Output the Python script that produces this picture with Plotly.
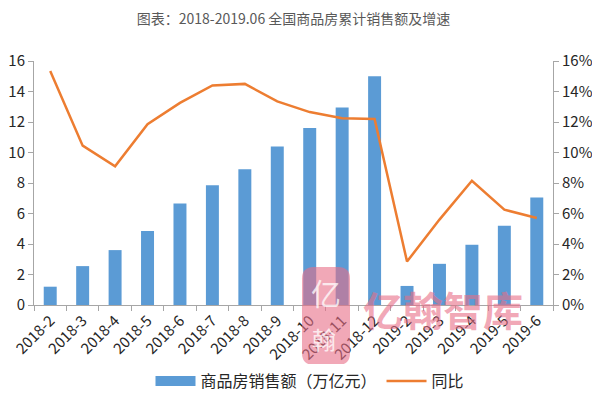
import plotly.graph_objects as go

categories = ["2018-2", "2018-3", "2018-4", "2018-5", "2018-6", "2018-7", "2018-8", "2018-9",
              "2018-10", "2018-11", "2018-12", "2019-2", "2019-3", "2019-4", "2019-5", "2019-6"]
sales = [1.2, 2.55, 3.6, 4.85, 6.65, 7.85, 8.9, 10.4, 11.6, 12.95, 15.0, 1.25, 2.7, 3.95, 5.2, 7.05]
yoy = [15.35, 10.45, 9.1, 11.85, 13.25, 14.4, 14.5, 13.35, 12.65, 12.25, 12.2, 2.85, 5.6, 8.15, 6.25, 5.7]
yoy_frac = [v / 100 for v in yoy]
bar_name = "商品房销售额（万亿元）"
line_name = "同比"
title = "图表：2018-2019.06 全国商品房累计销售额及增速"
watermark = "亿翰智库"

font = "Noto Sans CJK SC, Noto Sans, sans-serif"
BAR_C, LINE_C = "#5B9BD5", "#ED7D31"
WM_C = "rgba(232,110,135,0.6)"

# page body has an 8px default margin; compensate so the plot lands where the reference has it
OFF = 8
W, H = 600, 396
L, R, T, B = 34 - OFF, W - (553 - OFF), 61 - OFF, H - (305 - OFF)
PW, PH = W - L - R, H - T - B


def px_to_paper(x, y):
    return (x - OFF - L) / PW, (H - B - (y - OFF)) / PH


fig = go.Figure()
fig.add_trace(go.Bar(x=categories, y=sales, name=bar_name, marker_color=BAR_C,
                     marker_line_width=0, width=0.4, yaxis="y", showlegend=False))
# legend stand-in drawing the wide rectangle key used by the reference
fig.add_trace(go.Scatter(x=[None], y=[None], name=bar_name, mode="lines",
                         line=dict(color=BAR_C, width=10), yaxis="y"))
fig.add_trace(go.Scatter(x=categories, y=yoy_frac, name=line_name, mode="lines",
                         line=dict(color=LINE_C, width=2.5), yaxis="y2"))

# watermark logo (rounded shield) + text
x0, y0 = px_to_paper(302, 267)
x1, y1 = px_to_paper(350, 365)
rx, ry = (x1 - x0) * 0.25, (y0 - y1) * 0.12
path = (f"M {x0+rx},{y0} L {x1-rx},{y0} Q {x1},{y0} {x1},{y0-ry} "
        f"L {x1},{y1+ry} Q {x1},{y1} {x1-rx},{y1} L {x0+rx},{y1} Q {x0},{y1} {x0},{y1+ry} "
        f"L {x0},{y0-ry} Q {x0},{y0} {x0+rx},{y0} Z")
fig.add_shape(type="path", path=path, xref="paper", yref="paper",
              fillcolor=WM_C, line_width=0, layer="above")
for ch, cx, cy, sz in [("亿", 326, 292, 30), ("翰", 324, 338, 24)]:
    ax, ay = px_to_paper(cx, cy)
    fig.add_annotation(text=ch, x=ax, y=ay, xref="paper", yref="paper", showarrow=False,
                       font=dict(size=sz, color="rgba(255,255,255,0.75)", family=font),
                       xanchor="center", yanchor="middle")

wx, wy = px_to_paper(443, 309)
fig.add_annotation(text=f"<b>{watermark}</b>", x=wx, y=wy, xref="paper", yref="paper",
                   showarrow=False, font=dict(size=40, color=WM_C, family=font),
                   xanchor="center", yanchor="middle")

lx, ly = px_to_paper(310, 381)

fig.update_layout(
    width=W, height=H,
    margin=dict(l=L, r=R, t=T, b=B, autoexpand=False),
    paper_bgcolor="white", plot_bgcolor="white",
    title=dict(text=title, x=0.5, xanchor="center", xref="paper",
               y=1 - (19 - OFF) / H, yanchor="middle",
               font=dict(family=font, size=14, color="#595959")),
    font=dict(family=font, size=13, color="#262626"),
    xaxis=dict(type="category", tickangle=-45, showline=True, linecolor="#A6A6A6",
               ticks="outside", tickson="boundaries", ticklen=5, tickcolor="#A6A6A6",
               showgrid=False, automargin=False, tickfont=dict(size=15, color="#262626")),
    yaxis=dict(range=[0, 16], dtick=2, showline=True, linecolor="#A6A6A6", ticks="outside",
               ticklen=5, tickcolor="#A6A6A6", showgrid=False, zeroline=False, automargin=False,
               tickfont=dict(size=15, color="#262626")),
    yaxis2=dict(range=[0, 0.16], dtick=0.02, tickformat=".0%", overlaying="y", side="right",
                showline=True, linecolor="#A6A6A6", ticks="outside", ticklen=5, automargin=False,
                tickcolor="#A6A6A6", showgrid=False, zeroline=False,
                tickfont=dict(size=15, color="#262626")),
    legend=dict(orientation="h", x=lx, xanchor="center", y=ly, yanchor="middle",
                font=dict(size=16, color="#262626"), itemwidth=40),
    showlegend=True,
)

fig.write_html("out.html")
